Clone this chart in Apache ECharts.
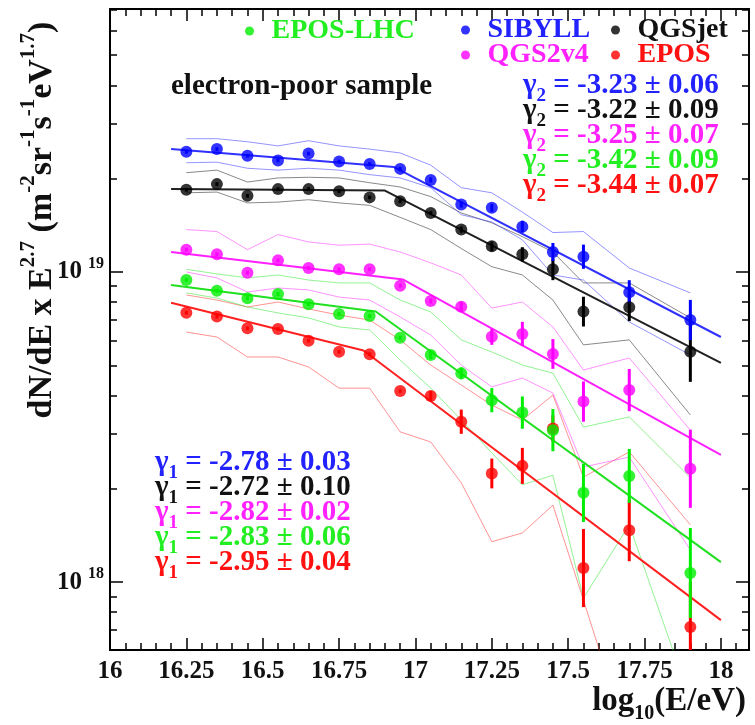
<!DOCTYPE html>
<html lang="en">
<head>
<meta charset="UTF-8">
<title>electron-poor sample</title>
<script src="https://cdn.jsdelivr.net/npm/echarts@6/dist/echarts.min.js"></script>
<style>
    html, body { margin: 0; padding: 0; background: #fff; }
    #main { width: 755px; height: 725px; }
</style>
</head>
<body>
<div id="main"></div>
<script>
// bin centres, log10(E/eV)
var lgE = [16.25, 16.35, 16.45, 16.55, 16.65, 16.75, 16.85, 16.95, 17.05, 17.15, 17.25, 17.35, 17.45, 17.55, 17.7, 17.9];

// dN/dE x E^2.7, units of 1e18 m^-2 sr^-1 s^-1 eV^1.7
var sibyll  = [24.4, 24.9, 23.7, 22.9, 24.1, 22.7, 22.3, 21.5, 19.8, 16.5, 16.1, 14.0, 11.6, 11.2, 8.6, 7.0];
var qgsjet  = [18.4, 19.2, 17.6, 18.5, 18.5, 18.2, 17.4, 16.9, 15.5, 13.7, 12.1, 11.4, 10.2, 7.45, 7.7, 5.53];
var qgs2v4  = [11.8, 11.4, 9.95, 10.9, 10.3, 10.2, 10.2, 9.03, 8.06, 7.73, 6.18, 6.31, 5.44, 3.82, 4.16, 2.32];
var eposlhc = [9.42, 8.70, 8.23, 8.49, 7.87, 7.32, 7.21, 6.14, 5.40, 4.71, 3.86, 3.52, 3.09, 1.94, 2.20, 1.07];
var epos    = [7.39, 7.18, 6.58, 6.55, 6.00, 5.53, 5.43, 4.13, 3.98, 3.29, 2.24, 2.37, 3.13, 1.11, 1.47, 0.716];

// statistical errors, half width in dex
var sibyllErr  = [0.006, 0.006, 0.006, 0.006, 0.006, 0.006, 0.006, 0.006, 0.008, 0.010, 0.013, 0.019, 0.029, 0.039, 0.039, 0.065];
var qgsjetErr  = [0.006, 0.006, 0.006, 0.006, 0.006, 0.006, 0.006, 0.006, 0.006, 0.010, 0.016, 0.023, 0.035, 0.048, 0.045, 0.097];
var qgs2v4Err  = [0.006, 0.006, 0.006, 0.006, 0.006, 0.006, 0.006, 0.006, 0.008, 0.016, 0.026, 0.039, 0.048, 0.065, 0.068, 0.126];
var eposlhcErr = [0.006, 0.006, 0.006, 0.006, 0.006, 0.006, 0.006, 0.006, 0.013, 0.019, 0.039, 0.052, 0.068, 0.094, 0.087, 0.145];
var eposErr    = [0.006, 0.006, 0.006, 0.006, 0.006, 0.006, 0.006, 0.006, 0.016, 0.039, 0.048, 0.058, 0.042, 0.126, 0.100, 0.145];

// systematic band edges (same units)
var sibyllUp  = [26.9, 26.9, 26.3, 25.5, 26.5, 25.5, 24.9, 24.2, 22.1, 18.7, 18.0, 15.6, 13.4, 13.5, 10.3, 8.56];
var sibyllLo  = [22.5, 22.6, 21.6, 21.3, 21.6, 21.3, 20.6, 20.1, 18.7, 15.3, 14.5, 12.7, 9.78, 9.42, 6.90, 5.40];
var qgsjetUp  = [20.9, 21.3, 19.5, 20.1, 20.2, 20.1, 19.4, 18.8, 17.5, 15.5, 14.4, 13.0, 11.6, 9.22, 9.22, 7.11];
var qgsjetLo  = [18.0, 18.1, 16.7, 16.8, 17.1, 16.7, 16.4, 15.0, 13.7, 11.9, 10.4, 9.78, 8.12, 5.82, 6.04, 3.46];
var qgs2v4Up  = [13.7, 13.5, 11.8, 13.2, 12.5, 12.2, 12.3, 11.6, 10.7, 9.78, 7.65, 8.00, 6.65, 4.83, 5.28, 3.09];
var qgs2v4Lo  = [10.0, 9.57, 8.62, 8.88, 8.75, 8.30, 8.12, 7.16, 6.26, 5.01, 4.26, 4.55, 4.07, 2.35, 2.53, 1.27];
var eposlhcUp = [10.2, 9.86, 9.57, 9.78, 9.42, 9.22, 9.22, 8.12, 7.43, 6.04, 5.52, 5.01, 4.72, 3.16, 3.41, 2.17];
var eposlhcLo = [8.56, 8.24, 7.71, 7.38, 7.11, 6.65, 6.50, 5.20, 4.22, 3.33, 2.61, 2.06, 2.21, 0.888, 1.53, 0.416];
var eposUp    = [8.43, 8.12, 7.71, 8.00, 7.60, 7.26, 7.00, 6.04, 5.01, 4.32, 3.72, 3.33, 4.01, 2.18, 2.63, 1.53];
var eposLo    = [6.40, 6.17, 5.32, 5.32, 4.94, 4.22, 4.22, 3.05, 2.83, 2.09, 1.35, 1.44, 1.77, 0.875, 0.30, 0.20];

// broken power-law fits: [log10(E/eV), value] at start, break, end
var sibyllFit  = [[16.2, 24.9], [16.93, 21.8], [18.0, 6.17]];
var qgsjetFit  = [[16.2, 18.5], [16.90, 18.3], [18.0, 5.09]];
var qgs2v4Fit  = [[16.2, 11.6], [16.96, 9.45], [18.0, 2.57]];
var eposlhcFit = [[16.2, 9.08], [16.87, 7.46], [18.0, 1.16]];
var eposFit    = [[16.2, 7.96], [16.83, 5.58], [18.0, 0.754]];

var gamma1 = ['-2.78 \u00b1 0.03', '-2.72 \u00b1 0.10', '-2.82 \u00b1 0.02', '-2.83 \u00b1 0.06', '-2.95 \u00b1 0.04'];
var gamma2 = ['-3.23 \u00b1 0.06', '-3.22 \u00b1 0.09', '-3.25 \u00b1 0.07', '-3.42 \u00b1 0.09', '-3.44 \u00b1 0.07'];

var xTicks = [16, 16.25, 16.5, 16.75, 17, 17.25, 17.5, 17.75, 18];
var yTicks = [18, 19];

var FONT = '"Liberation Serif", "Times New Roman", serif';
var LGMIN = 17.781, LGMAX = 19.848;

function lg(v) { return Math.log(v) / Math.LN10 + 18; }

var models = [
    {name: 'EPOS',     pts: epos,    err: eposErr,    up: eposUp,    lo: eposLo,    fit: eposFit,    color: '#ff0000', band: 'rgba(255,40,40,0.5)',   fitColor: '#ff2020'},
    {name: 'EPOS-LHC', pts: eposlhc, err: eposlhcErr, up: eposlhcUp, lo: eposlhcLo, fit: eposlhcFit, color: '#00ee00', band: 'rgba(40,230,40,0.5)',   fitColor: '#20e020'},
    {name: 'QGS2v4',   pts: qgs2v4,  err: qgs2v4Err,  up: qgs2v4Up,  lo: qgs2v4Lo,  fit: qgs2v4Fit,  color: '#ff00ff', band: 'rgba(255,40,255,0.5)',  fitColor: '#ff20ff'},
    {name: 'QGSjet',   pts: qgsjet,  err: qgsjetErr,  up: qgsjetUp,  lo: qgsjetLo,  fit: qgsjetFit,  color: '#000000', band: 'rgba(40,40,40,0.55)',   fitColor: '#202020'},
    {name: 'SIBYLL',   pts: sibyll,  err: sibyllErr,  up: sibyllUp,  lo: sibyllLo,  fit: sibyllFit,  color: '#0000ff', band: 'rgba(60,60,255,0.55)',  fitColor: '#3030ff'}
];

var series = [];
models.forEach(function (m) {
    [m.up, m.lo].forEach(function (arr) {
        series.push({
            type: 'line', symbol: 'none', silent: true, z: 2, clip: true,
            lineStyle: {color: m.band, width: 1},
            data: lgE.map(function (x, i) { return [x, lg(arr[i])]; })
        });
    });
});
models.forEach(function (m) {
    series.push({
        type: 'line', symbol: 'none', silent: true, z: 3, clip: true,
        lineStyle: {color: m.fitColor, width: 2},
        data: m.fit.map(function (p) { return [p[0], lg(p[1])]; })
    });
});
models.forEach(function (m) {
    series.push({
        type: 'custom', z: 4, clip: true, silent: true,
        encode: {x: 0, y: [1, 2]},
        data: lgE.map(function (x, i) {
            var c = lg(m.pts[i]);
            return [x, c - m.err[i], c + m.err[i]];
        }),
        renderItem: function (params, api) {
            var p1 = api.coord([api.value(0), api.value(1)]);
            var p2 = api.coord([api.value(0), api.value(2)]);
            return {
                type: 'line',
                shape: {x1: p1[0], y1: p1[1], x2: p2[0], y2: p2[1]},
                style: {stroke: m.color, lineWidth: 3}
            };
        }
    });
});
models.forEach(function (m) {
    series.push({
        name: m.name, type: 'scatter', z: 5, symbol: 'circle', symbolSize: 12,
        itemStyle: {color: m.color},
        data: lgE.map(function (x, i) { return [x, lg(m.pts[i])]; })
    });
});

// minor ticks
var xMinor = [];
for (var t = 16.05; t < 18.09; t += 0.05) {
    var r = Math.round(t * 100) / 100;
    if (Math.abs(r * 4 - Math.round(r * 4)) > 1e-6) xMinor.push(r);
}
var yMinor = [];
[17, 18, 19].forEach(function (n) {
    for (var k = 2; k <= 9; k++) {
        var v = n + Math.log(k) / Math.LN10;
        if (v > LGMIN && v < LGMAX) yMinor.push(v);
    }
});

function xAxisDef(pos, major, labels) {
    return {
        type: 'value', position: pos, min: 16, max: 18.092,
        axisLine: {show: major, lineStyle: {color: '#000', width: 2}},
        axisTick: {show: true, inside: true, length: major ? 12 : 7,
            customValues: major ? xTicks : xMinor, lineStyle: {color: '#000', width: 1.5}},
        axisLabel: {show: labels, customValues: xTicks, margin: 9,
            color: '#111', fontFamily: FONT, fontWeight: 'bold', fontSize: 25,
            formatter: function (v) { return String(Math.round(v * 100) / 100); }},
        splitLine: {show: false}
    };
}
function yAxisDef(pos, major, labels) {
    return {
        type: 'value', position: pos, min: LGMIN, max: LGMAX,
        axisLine: {show: major, lineStyle: {color: '#000', width: 2}},
        axisTick: {show: true, inside: true, length: major ? 13 : 7,
            customValues: major ? yTicks : yMinor, lineStyle: {color: '#000', width: 1.5}},
        axisLabel: {show: labels, customValues: yTicks, margin: 6,
            formatter: function (v) { return '{b|10}{s|' + Math.round(v) + '}'; },
            rich: {
                b: {fontFamily: FONT, fontWeight: 'bold', fontSize: 25, color: '#111', lineHeight: 32, verticalAlign: 'middle'},
                s: {fontFamily: FONT, fontWeight: 'bold', fontSize: 16, color: '#111', lineHeight: 32, verticalAlign: 'top', padding: [0, 0, 0, 6]}
            }},
        splitLine: {show: false}
    };
}

function legendDef(name, left, top, color) {
    return {
        data: [name], left: left, top: top, padding: 0, orient: 'horizontal',
        icon: 'circle', itemWidth: 34, itemHeight: 9, selectedMode: false,
        textStyle: {color: color, fontFamily: FONT, fontWeight: 'bold', fontSize: 28, lineHeight: 28}
    };
}

function richText(left, top, color, sub, val) {
    return {
        type: 'text', x: left, y: top, silent: true,
        style: {
            text: '{g|\u03b3}{u|' + sub + '}{n| = ' + val + '}',
            textAlign: 'left', textVerticalAlign: 'middle', align: 'left', verticalAlign: 'middle',
            rich: {
                g: {fontFamily: FONT, fontWeight: 'bold', fontSize: 29, fill: color, color: color, lineHeight: 40, verticalAlign: 'middle'},
                u: {fontFamily: FONT, fontWeight: 'bold', fontSize: 19, fill: color, color: color, lineHeight: 40, verticalAlign: 'bottom'},
                n: {fontFamily: FONT, fontWeight: 'bold', fontSize: 29, fill: color, color: color, lineHeight: 40, verticalAlign: 'middle'}
            }
        }
    };
}

var textColors = ['#2222ff', '#111111', '#ff22ff', '#22ee22', '#ff1111'];
var graphics = [];
gamma2.forEach(function (g, i) { graphics.push(richText(523, 86 + i * 25, textColors[i], '2', g)); });
gamma1.forEach(function (g, i) { graphics.push(richText(155, 463 + i * 25, textColors[i], '1', g)); });
graphics.push({
    type: 'text', x: 171, y: 87, silent: true,
    style: {text: 'electron-poor sample', fill: '#111', font: 'bold 29px ' + FONT,
        textAlign: 'left', textVerticalAlign: 'middle', align: 'left', verticalAlign: 'middle'}
});
var supS = {fontFamily: FONT, fontWeight: 'bold', fontSize: 21, fill: '#111', lineHeight: 48, verticalAlign: 'top'};
var mainS = {fontFamily: FONT, fontWeight: 'bold', fontSize: 34, fill: '#111', lineHeight: 48, verticalAlign: 'middle'};
graphics.push({
    type: 'text', x: 42, y: 220, rotation: Math.PI / 2, silent: true,
    style: {
        text: '{m|dN/dE x E}{p|2.7}{m| (m}{p|-2}{m|sr}{p|-1}{m|s}{p|-1}{m|eV}{p|1.7}{m|)}',
        textAlign: 'center', textVerticalAlign: 'middle', align: 'center', verticalAlign: 'middle',
        rich: {m: mainS, p: supS}
    }
});
var xMain = {fontFamily: FONT, fontWeight: 'bold', fontSize: 33, fill: '#111', lineHeight: 46, verticalAlign: 'middle'};
var subS = {fontFamily: FONT, fontWeight: 'bold', fontSize: 20, fill: '#111', lineHeight: 46, verticalAlign: 'bottom'};
graphics.push({
    type: 'text', x: 746, y: 701, silent: true,
    style: {
        text: '{m|log}{q|10}{m|(E/eV)}',
        textAlign: 'right', textVerticalAlign: 'middle', align: 'right', verticalAlign: 'middle',
        rich: {m: xMain, q: subS}
    }
});

var chart = echarts.init(document.getElementById('main'));
chart.setOption({
    animation: false,
    backgroundColor: '#fff',
    grid: {left: 110, right: 6, top: 9, bottom: 75, show: false},
    xAxis: [xAxisDef('bottom', true, true), xAxisDef('bottom', false, false),
            xAxisDef('top', true, false), xAxisDef('top', false, false)],
    yAxis: [yAxisDef('left', true, true), yAxisDef('left', false, false),
            yAxisDef('right', true, false), yAxisDef('right', false, false)],
    legend: [
        legendDef('EPOS-LHC', 245, 17, '#22ee22'),
        legendDef('SIBYLL', 461, 16, '#2222ff'),
        legendDef('QGSjet', 611, 16, '#111111'),
        legendDef('QGS2v4', 461, 41, '#ff22ff'),
        legendDef('EPOS', 611, 41, '#ff1111')
    ],
    graphic: graphics,
    series: series
});
</script>
</body>
</html>
